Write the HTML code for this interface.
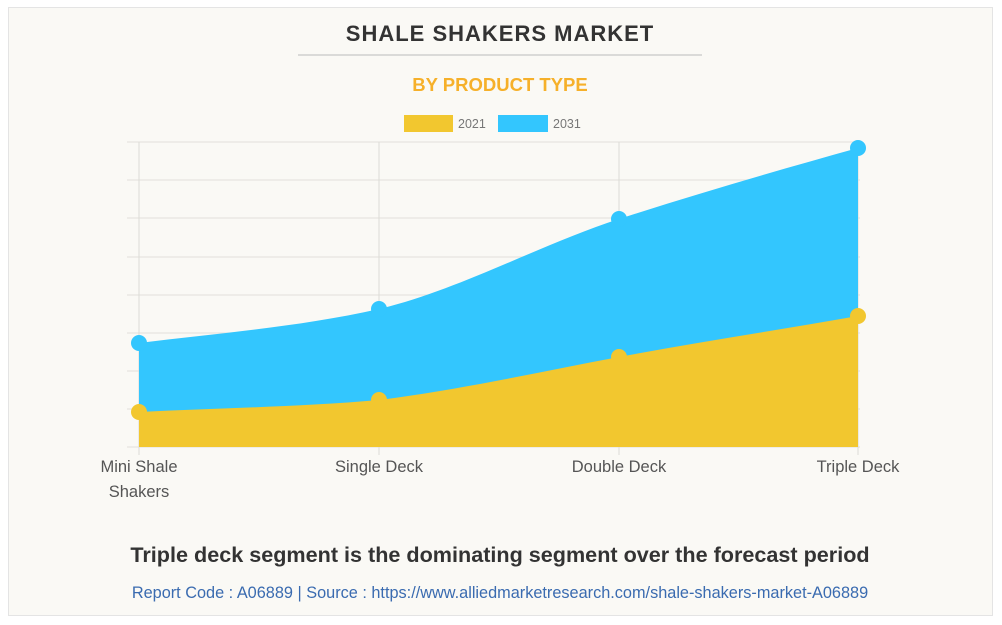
<!DOCTYPE html>
<html><head><meta charset="utf-8"><style>
html,body{margin:0;padding:0;background:#fff;}
body{width:1002px;height:625px;position:relative;font-family:"Liberation Sans",Arial,sans-serif;overflow:hidden}
.card{position:absolute;left:8px;top:7px;width:983px;height:607px;background:#faf9f5;border:1px solid #e4e4e4;}
</style></head><body>
<div class="card"></div>
<svg width="1002" height="625" style="position:absolute;left:0;top:0" font-family="Liberation Sans, Arial, sans-serif">
<text x="500" y="41" text-anchor="middle" font-size="22" font-weight="bold" fill="#333" letter-spacing="1">SHALE SHAKERS MARKET</text>
<line x1="298" y1="55" x2="702" y2="55" stroke="#bbb" stroke-width="1"/>
<text x="500" y="91" text-anchor="middle" font-size="18.5" font-weight="bold" fill="#f6b02a">BY PRODUCT TYPE</text>
<rect x="404" y="115" width="49" height="17" fill="#f2c72f"/>
<text x="458" y="128" font-size="12.5" fill="#777">2021</text>
<rect x="498" y="115" width="50" height="17" fill="#33c6fe"/>
<text x="553" y="128" font-size="12.5" fill="#777">2031</text>
<g stroke="#e6e5e0" stroke-width="1.2">
<line x1="127" y1="142" x2="860" y2="142"/><line x1="127" y1="180" x2="860" y2="180"/>
<line x1="127" y1="218" x2="860" y2="218"/><line x1="127" y1="257" x2="860" y2="257"/>
<line x1="127" y1="295" x2="860" y2="295"/><line x1="127" y1="333" x2="860" y2="333"/>
<line x1="127" y1="371" x2="860" y2="371"/><line x1="127" y1="409" x2="860" y2="409"/>
<line x1="127" y1="447" x2="860" y2="447"/>
</g>
<g stroke="#dcdbd6" stroke-width="1">
<line x1="139" y1="142" x2="139" y2="455"/><line x1="379" y1="142" x2="379" y2="455"/>
<line x1="619" y1="142" x2="619" y2="455"/><line x1="858" y1="142" x2="858" y2="455"/>
</g>
<path d="M139,343 C219,333 299,327 379,309 C459,290 539,245 619,219 C699,193 779,170 858,148 L858,447 L139,447 Z" fill="#33c6fe"/>
<path d="M139,412 C219,408 299,407 379,400 C459,390 539,372 619,357 C699,342 779,330 858,316 L858,447 L139,447 Z" fill="#f2c72f"/>
<g fill="#33c6fe"><circle cx="139" cy="343" r="8"/><circle cx="379" cy="309" r="8"/><circle cx="619" cy="219" r="8"/><circle cx="858" cy="148" r="8"/></g>
<g fill="#f2c72f"><circle cx="139" cy="412" r="8"/><circle cx="379" cy="400" r="8"/><circle cx="619" cy="357" r="8"/><circle cx="858" cy="316" r="8"/></g>
<g font-size="16.5" fill="#555" text-anchor="middle">
<text x="139" y="472">Mini Shale</text><text x="139" y="497">Shakers</text>
<text x="379" y="472">Single Deck</text><text x="619" y="472">Double Deck</text><text x="858" y="472">Triple Deck</text>
</g>
<text x="500" y="562" text-anchor="middle" font-size="21.6" font-weight="bold" fill="#333">Triple deck segment is the dominating segment over the forecast period</text>
<text x="500" y="598" text-anchor="middle" font-size="16.3" fill="#3a6bb0">Report Code : A06889  |  Source : https://www.alliedmarketresearch.com/shale-shakers-market-A06889</text>
</svg>
</body></html>
